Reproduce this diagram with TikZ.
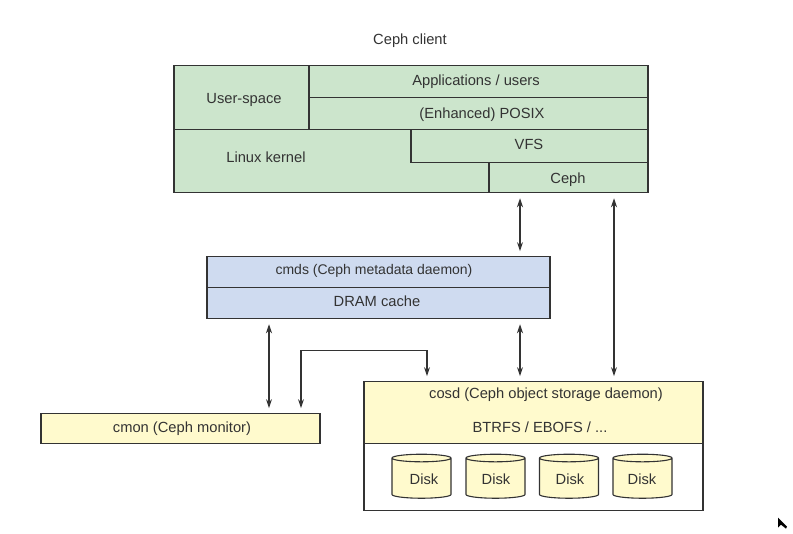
\documentclass[tikz,border=0pt]{standalone}
\usepackage{fontspec}
\setmainfont{Liberation Sans}
\usetikzlibrary{arrows.meta}
\usetikzlibrary{shapes.geometric}
\definecolor{linegray}{HTML}{333333}
\definecolor{textgray}{HTML}{333333}
\definecolor{kernelgreen}{HTML}{CCE5CC}
\definecolor{mdsblue}{HTML}{CFDBF0}
\definecolor{osdyellow}{HTML}{FFFACD}
\tikzset{
    box/.style={draw=linegray,line width=1.1pt,inner sep=0pt,text=textgray},
    greenbox/.style={box,fill=kernelgreen},
    bluebox/.style={box,fill=mdsblue},
    yellowbox/.style={box,fill=osdyellow},
    caption/.style={inner sep=0pt,text=textgray},
    disk/.style={box,fill=osdyellow,shape=cylinder,shape border rotate=90,shape aspect=0.17,
        inner xsep=8pt,inner ysep=5pt,minimum width=59pt,minimum height=44pt},
    twoway/.style={{Stealth[length=9pt,width=6pt]}-{Stealth[length=9pt,width=6pt]},
        draw=linegray,line width=1.1pt,shorten <=5pt,shorten >=5pt},
}
\begin{document}
\begin{tikzpicture}[x=1pt,y=-1pt,font=\fontsize{14.7}{17}\selectfont]
    \useasboundingbox (0,-0.7) rectangle (793,533.3);

    \node[caption] (title) at (410,40) {Ceph client};

    % client stack
    \node[greenbox,minimum width=474pt,minimum height=127pt] (client) at (411,128.5) {};
    \node[greenbox,minimum width=135pt,minimum height=64pt] (user) at (241.5,97) {};
    \node[greenbox,minimum width=339pt,minimum height=32pt] (apps) at (478.5,81) {};
    \node[greenbox,minimum width=339pt,minimum height=32pt] (posix) at (478.5,113) {};
    \node[greenbox,minimum width=237pt,minimum height=33pt] (vfs) at (529.5,145.5) {};
    \node[greenbox,minimum width=159pt,minimum height=30pt] (ceph) at (568.5,177) {};
    \node[caption] (userlabel) at (244,99) {User-space};
    \node[caption] (appslabel) at (476,81) {Applications / users};
    \node[caption] (posixlabel) at (482,114) {(Enhanced) POSIX};
    \node[caption] (kernellabel) at (266,157) {Linux kernel};
    \node[caption] (vfslabel) at (529,144) {VFS};
    \node[caption] (cephlabel) at (568,179) {Ceph};

    % metadata daemon
    \node[bluebox,minimum width=343pt,minimum height=31pt] (cmds) at (378.5,271.5) {};
    \node[bluebox,minimum width=343pt,minimum height=31pt] (dram) at (378.5,302.5) {};
    \node[caption,font=\fontsize{14}{17}\selectfont] (cmdslabel) at (374,270) {cmds (Ceph metadata daemon)};
    \node[caption] (dramlabel) at (377,301) {DRAM cache};

    % monitor
    \node[yellowbox,minimum width=279pt,minimum height=30pt] (cmon) at (180.5,428) {};
    \node[caption] (cmonlabel) at (182,428) {cmon (Ceph monitor)};

    % object storage daemon
    \node[box,fill=white,minimum width=339pt,minimum height=129pt] (store) at (533.5,445.5) {};
    \node[yellowbox,minimum width=339pt,minimum height=62pt] (cosd) at (533.5,412) {};
    \node[caption] (cosdlabel) at (546,394) {cosd (Ceph object storage daemon)};
    \node[caption] (fslabel) at (540,427) {BTRFS / EBOFS / ...};
    \node[disk] (diska) at (421.5,479) {\phantom{Disk}};
    \node[disk] (diskb) at (495.5,479) {\phantom{Disk}};
    \node[disk] (diskc) at (569,479) {\phantom{Disk}};
    \node[disk] (diskd) at (642.5,479) {\phantom{Disk}};
    \node[caption] (disklabela) at (424,479) {Disk};
    \node[caption] (disklabelb) at (496,479) {Disk};
    \node[caption] (disklabelc) at (570,479) {Disk};
    \node[caption] (disklabeld) at (642,479) {Disk};

    % connectors
    \coordinate (lanea) at (520,0);
    \coordinate (laneb) at (614,0);
    \coordinate (lanec) at (269,0);
    \coordinate (laned) at (427,0);
    \coordinate (bend) at (301,350);
    \draw[twoway] (ceph.south -| lanea) -- (cmds.north -| lanea);
    \draw[twoway] (ceph.south -| laneb) -- (cosd.north -| laneb);
    \draw[twoway] (dram.south -| lanea) -- (cosd.north -| lanea);
    \draw[twoway] (dram.south -| lanec) -- (cmon.north -| lanec);
    \draw[twoway] (cmon.north -| bend) -- (bend) -| (cosd.north -| laned);

    % pointer
    \fill[black] (778,517) -- (778,527) -- (781,524) -- (786,528) -- (787,526) -- cycle;
\end{tikzpicture}
\end{document}
